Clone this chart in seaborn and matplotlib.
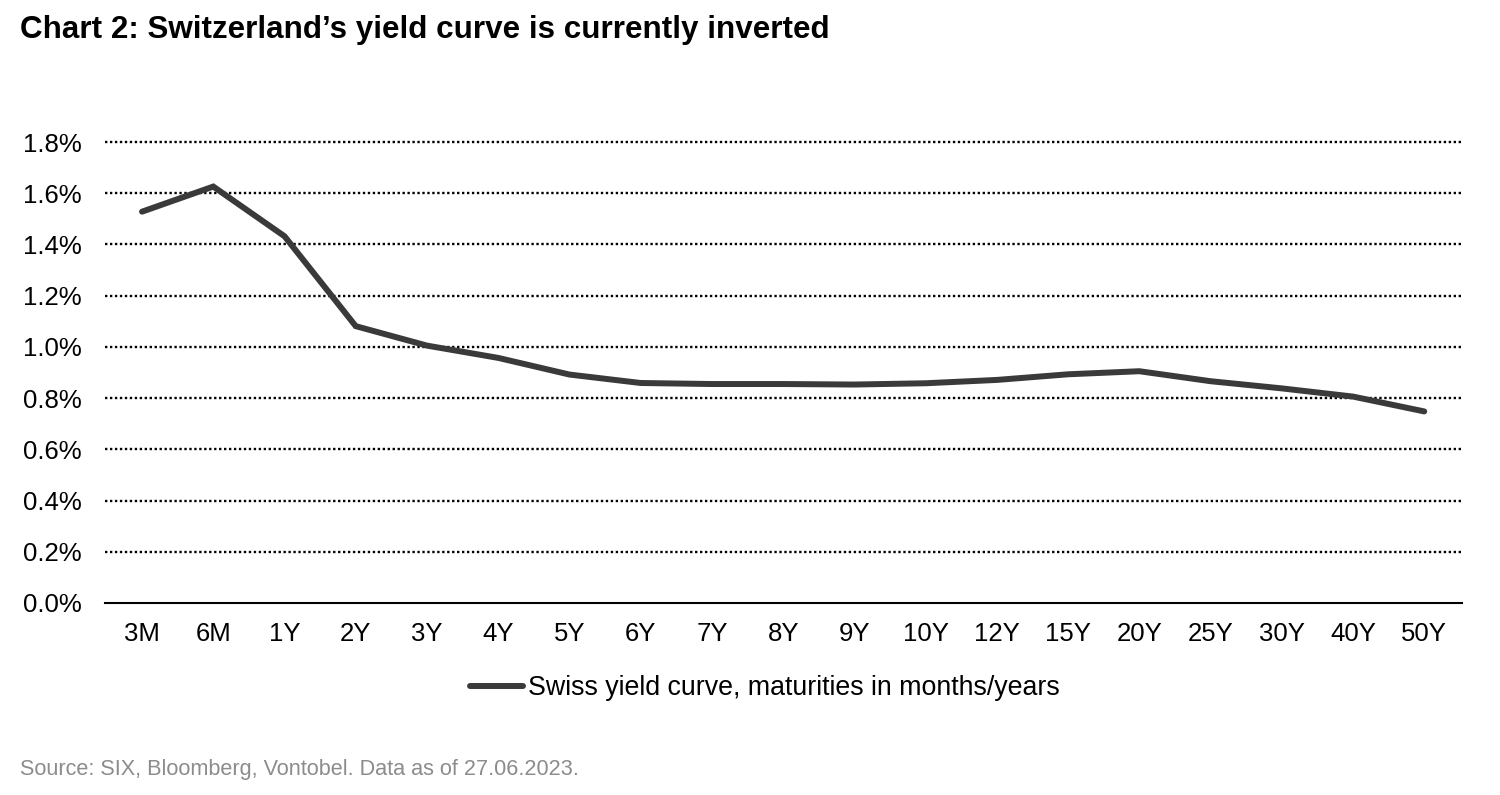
import matplotlib
matplotlib.use('agg')
import matplotlib.pyplot as plt
import pandas as pd
import numpy as np
import seaborn as sns

maturities = ["3M", "6M", "1Y", "2Y", "3Y", "4Y", "5Y", "6Y", "7Y", "8Y",
              "9Y", "10Y", "12Y", "15Y", "20Y", "25Y", "30Y", "40Y", "50Y"]
yields = [1.528, 1.626, 1.432, 1.081, 1.005, 0.957, 0.892, 0.859, 0.855, 0.855,
          0.853, 0.858, 0.871, 0.893, 0.905, 0.866, 0.838, 0.806, 0.748]
yticks = [0.0, 0.2, 0.4, 0.6, 0.8, 1.0, 1.2, 1.4, 1.6, 1.8]

df = pd.DataFrame({"pos": np.arange(len(maturities)), "maturity": maturities, "yield": yields})

sns.set_style("white")
plt.rcParams['font.family'] = ['Liberation Sans', 'DejaVu Sans']
plt.rcParams['text.color'] = 'black'
plt.rcParams['xtick.color'] = 'black'
plt.rcParams['ytick.color'] = 'black'

fig = plt.figure(figsize=(15, 7.95), dpi=100)
ax = fig.add_axes([105/1500, 1 - 603/795, (1462-105)/1500, (603-142)/795])

sns.lineplot(data=df, x="pos", y="yield", ax=ax, color="#3a3a3a", linewidth=4.3,
             label="Swiss yield curve, maturities in months/years",
             solid_capstyle="round", solid_joinstyle="miter")

ax.set_ylim(0, 1.8)
ax.set_xlim(-0.52, len(maturities) - 1 + 0.53)
ax.set_yticks(yticks)
ax.set_yticklabels([f"{v:.1f}%" for v in yticks], fontsize=18.5)
ax.set_xticks(df["pos"])
ax.set_xticklabels(maturities, fontsize=18.5)
ax.tick_params(axis="both", length=0)
ax.tick_params(axis="x", pad=14)
ax.tick_params(axis="y", pad=17)
for v in yticks[1:]:
    ax.axhline(v, color="black", linestyle=(0, (1, 1.1)), linewidth=1.7, zorder=0)
ax.set_xlabel("")
ax.set_ylabel("")
sns.despine(ax=ax, left=True, top=True, right=True)
ax.spines["bottom"].set_color("black")
ax.spines["bottom"].set_linewidth(1.5)
for ln in ax.lines:
    ln.set_clip_on(False)

leg = ax.legend(loc="center", bbox_to_anchor=(765/1500, 1 - 688/795),
                bbox_transform=fig.transFigure, frameon=False, fontsize=19.3,
                handlelength=1.95, handletextpad=0.2)

fig.text(20/1500, 1 - 30/795, "Chart 2: Switzerland\u2019s yield curve is currently inverted",
         fontsize=22.6, fontweight="bold", va="center", ha="left")
fig.text(20/1500, 1 - 770/795, "Source: SIX, Bloomberg, Vontobel. Data as of 27.06.2023.",
         fontsize=15.6, color="#8c8c8c", va="center", ha="left")

plt.savefig("out.png", dpi=100)
plt.close()
